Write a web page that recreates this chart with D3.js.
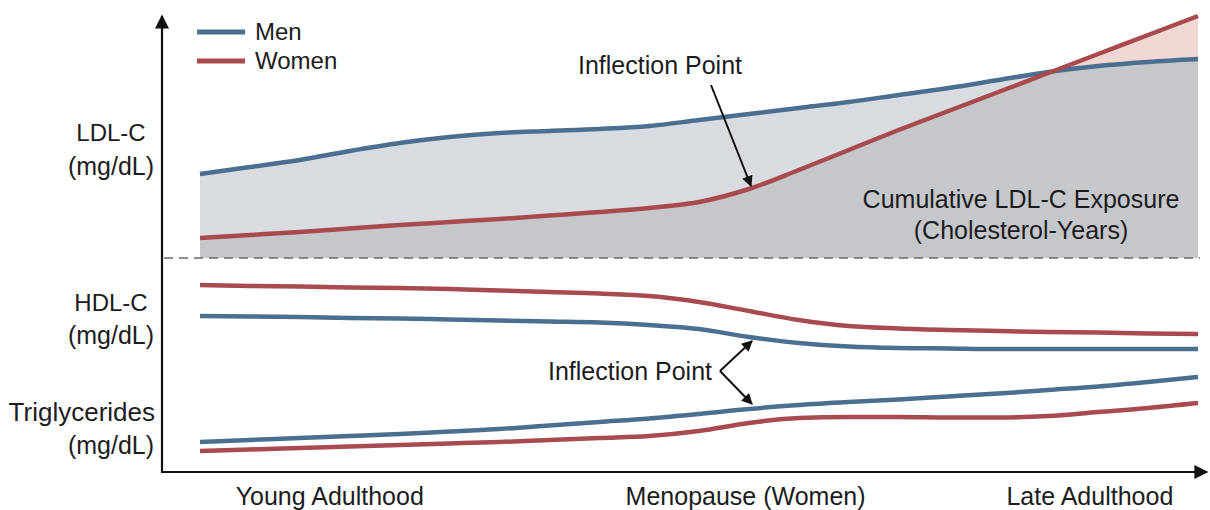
<!DOCTYPE html>
<html><head><meta charset="utf-8">
<script src="https://cdn.jsdelivr.net/npm/d3@7"></script>
<style>
body{margin:0;background:#fff}
text{font-family:"Liberation Sans",Arial,sans-serif;fill:#1c1c1c}
</style>
</head><body>
<svg id="chart" width="1210" height="510"></svg>
<script>
// ---- data (schematic units) ----
const ages = [20,23,26,29,32,35,38,41,44,47,50,53,56,59,62,65,68,71,74,77,80];
const ldlMen   = [42,45.5,49,53.5,57.5,60.5,62.5,63.5,64.5,66,69,72,75,78,81.5,85,89,93,96,98,99.5];
const ldlWomen = [10,11.5,13,14.75,16.5,18,19.5,21.25,23,25,28,34.5,44,54,64,73.5,83,92.5,102,111.5,121];
const hdlWomen = [75,74,73.5,72.5,72,71,69.5,68,66.5,64,58,49,40,34,31.5,30,29,28,27.5,26.5,26];
const hdlMen   = [44,43.5,43,42,41.5,40.5,39.5,38.5,37.5,35,31,23,17,13.5,12,11.5,11,11,11,11,11];
const tgMen    = [18,20,22,24,26,28.5,31,34.5,38,41.5,46,51,55,58,60.5,63.5,66.5,70,73.5,78,83];
const tgWomen  = [9,10.5,12,13.5,15,16.5,18,20,22,24,29,37,42,43,43,42.5,42.5,44,48,52,57];
const ageLabels = ["Young Adulthood","Menopause (Women)","Late Adulthood"];
const ageLabelPos = [27.8,52.8,73.5];
const seriesNames = ["Men","Women"];
const colors = {Men:"#4b6f90", Women:"#a84a4e"};

const svg = d3.select("#chart");
const x = d3.scaleLinear().domain([20,80]).range([200,1198]);
const yLDL = d3.scaleLinear().domain([0,120]).range([258,18]);
const yHDL = d3.scaleLinear().domain([0,100]).range([360,260]);
const yTG  = d3.scaleLinear().domain([0,100]).range([460,360]);

const defs = svg.append("defs");
defs.append("marker").attr("id","arr").attr("viewBox","0 0 10 10").attr("refX",9).attr("refY",5)
  .attr("markerWidth",12).attr("markerHeight",11).attr("markerUnits","userSpaceOnUse").attr("orient","auto")
  .append("path").attr("d","M0,0 L10,5 L0,10 Z").attr("fill","#111");
defs.append("marker").attr("id","axarr").attr("viewBox","0 0 10 10").attr("refX",9).attr("refY",5)
  .attr("markerWidth",16).attr("markerHeight",14).attr("markerUnits","userSpaceOnUse").attr("orient","auto")
  .append("path").attr("d","M0,0 L10,5 L0,10 Z").attr("fill","#111");

const curve = d3.curveMonotoneX;
const areaOf = (arr) => d3.area().x((d,i)=>x(ages[i])).y0(yLDL(0)).y1(d=>yLDL(d)).curve(curve)(arr);
const lineOf = (arr, ys) => d3.line().x((d,i)=>x(ages[i])).y(d=>ys(d)).curve(curve)(arr);

defs.append("clipPath").attr("id","menClip").append("path").attr("d", areaOf(ldlMen));

// fills
svg.append("path").attr("d", areaOf(ldlWomen)).attr("fill","#f0d7d4");
svg.append("path").attr("d", areaOf(ldlMen)).attr("fill","#d8dce1");
svg.append("path").attr("d", areaOf(ldlWomen)).attr("fill","#c6c7cb").attr("clip-path","url(#menClip)");

// dashed separator
svg.append("line").attr("x1",164).attr("x2",1200).attr("y1",yLDL(0)).attr("y2",yLDL(0))
  .attr("stroke","#6a6a6a").attr("stroke-width",1.6).attr("stroke-dasharray","9,6");

// lines
const lines = [
  [ldlMen,yLDL,"Men"],[ldlWomen,yLDL,"Women"],
  [hdlWomen,yHDL,"Women"],[hdlMen,yHDL,"Men"],
  [tgMen,yTG,"Men"],[tgWomen,yTG,"Women"]
];
lines.forEach(([arr,ys,n])=>{
  svg.append("path").attr("d", lineOf(arr,ys)).attr("fill","none")
    .attr("stroke",colors[n]).attr("stroke-width",4.5).attr("stroke-linecap","butt");
});

// axes
svg.append("line").attr("x1",162).attr("y1",473).attr("x2",162).attr("y2",16)
  .attr("stroke","#111").attr("stroke-width",2.2).attr("marker-end","url(#axarr)");
svg.append("line").attr("x1",161).attr("y1",472).attr("x2",1207).attr("y2",472)
  .attr("stroke","#111").attr("stroke-width",2.2).attr("marker-end","url(#axarr)");

// x labels
svg.selectAll(".xl").data(ageLabels).enter().append("text")
  .attr("x",(d,i)=>x(ageLabelPos[i])).attr("y",505).attr("text-anchor","middle")
  .attr("font-size",25).text(d=>d);

// y labels
const yl = [["LDL-C",141,111,"middle",24],["(mg/dL)",175,111,"middle",25],
            ["HDL-C",311,111,"middle",24],["(mg/dL)",344,111,"middle",25],
            ["Triglycerides",421,155,"end",26],["(mg/dL)",454,111,"middle",25]];
yl.forEach(([t,yy,xx,anc,fs])=>{
  svg.append("text").attr("x",xx).attr("y",yy).attr("text-anchor",anc).attr("font-size",fs).text(t);
});

// legend
seriesNames.forEach((n,i)=>{
  const yy = 32 + i*29;
  svg.append("line").attr("x1",197).attr("x2",245).attr("y1",yy).attr("y2",yy)
    .attr("stroke",colors[n]).attr("stroke-width",5);
  svg.append("text").attr("x",255).attr("y",yy+8).attr("font-size",24).text(n);
});

// annotations
svg.append("text").attr("x",660).attr("y",74).attr("text-anchor","middle").attr("font-size",25).text("Inflection Point");
svg.append("line").attr("x1",711).attr("y1",85).attr("x2",751).attr("y2",186)
  .attr("stroke","#111").attr("stroke-width",2).attr("marker-end","url(#arr)");

svg.append("text").attr("x",1021).attr("y",208).attr("text-anchor","middle").attr("font-size",25).text("Cumulative LDL-C Exposure");
svg.append("text").attr("x",1021).attr("y",239).attr("text-anchor","middle").attr("font-size",25).text("(Cholesterol-Years)");

svg.append("text").attr("x",712).attr("y",380).attr("text-anchor","end").attr("font-size",25).text("Inflection Point");
svg.append("line").attr("x1",720).attr("y1",371).attr("x2",752).attr("y2",341)
  .attr("stroke","#111").attr("stroke-width",2).attr("marker-end","url(#arr)");
svg.append("line").attr("x1",720).attr("y1",371).attr("x2",752).attr("y2",404)
  .attr("stroke","#111").attr("stroke-width",2).attr("marker-end","url(#arr)");
</script>
</body></html>
